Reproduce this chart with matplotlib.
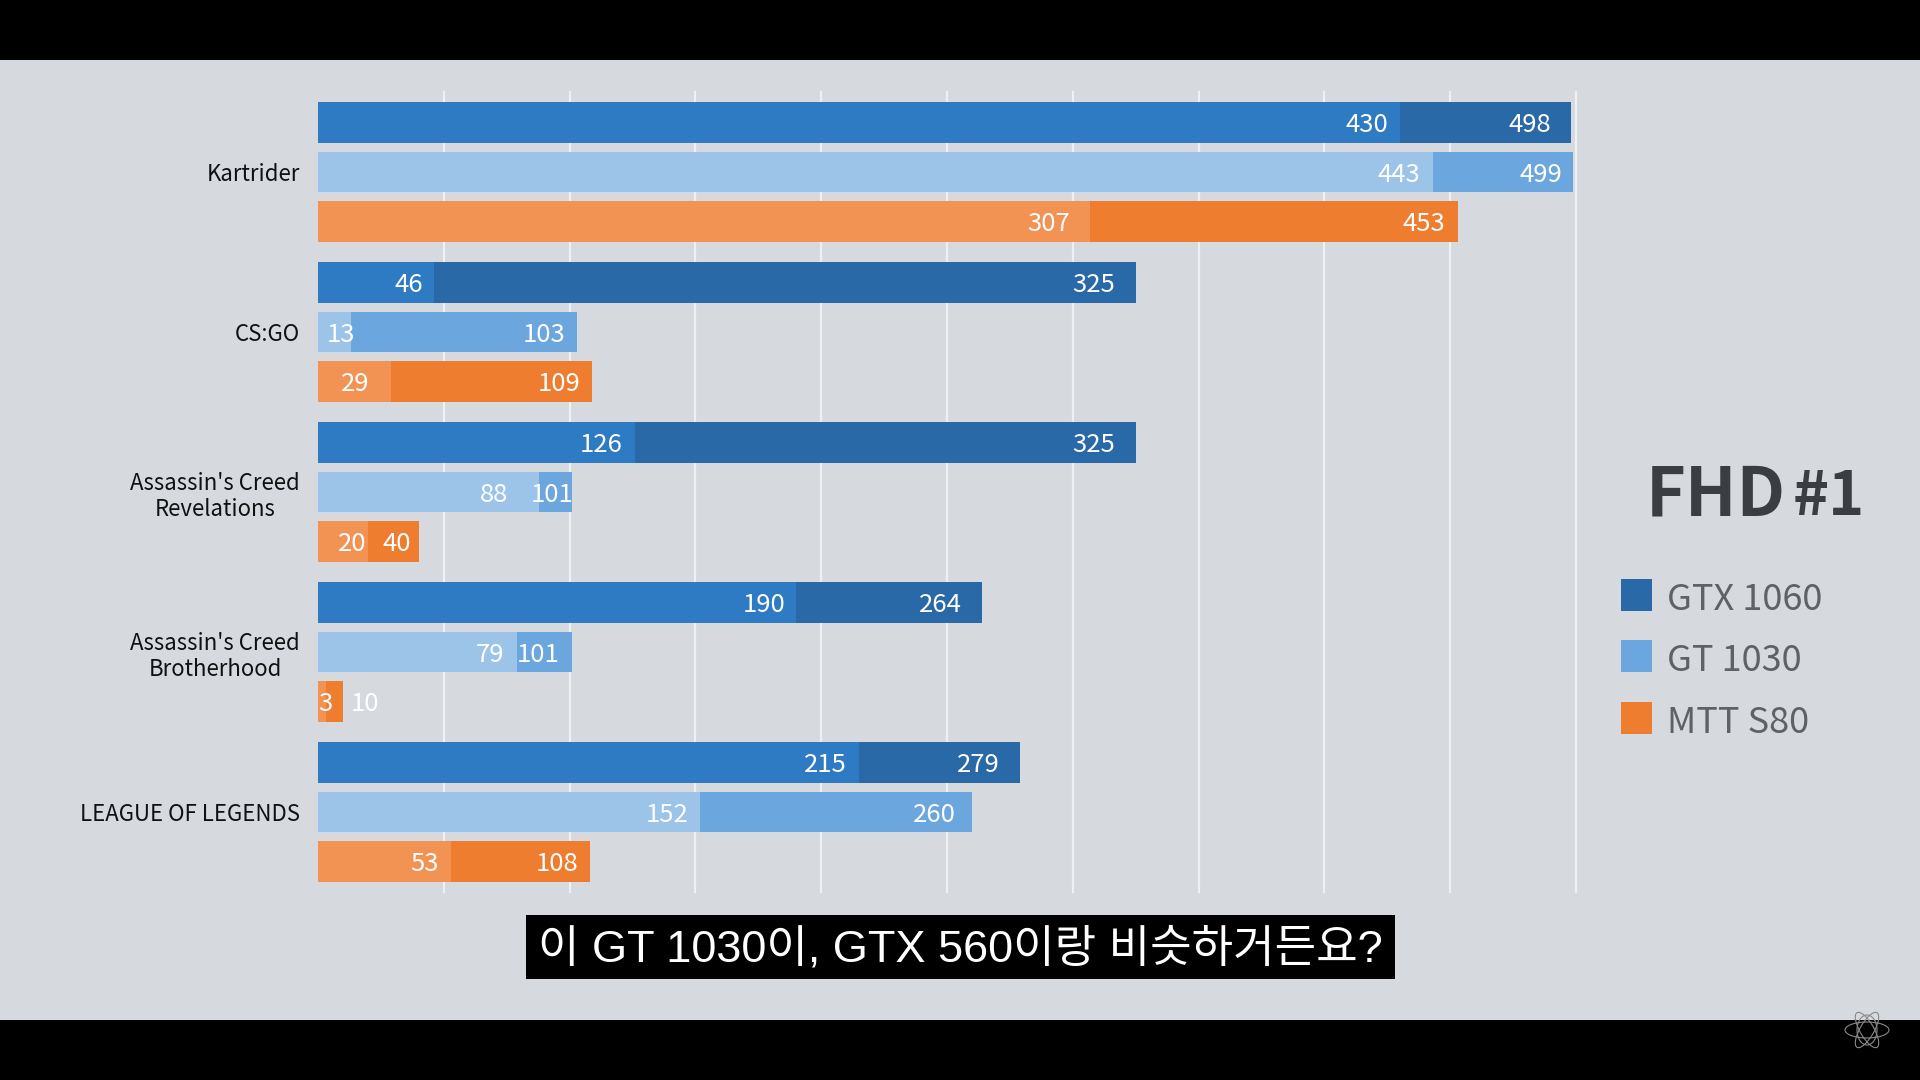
import matplotlib
matplotlib.use("Agg")
import matplotlib.pyplot as plt
from matplotlib.patches import Rectangle, Ellipse

# =========================================
# Data
# =========================================

games = [
    "Kartrider",
    "CS:GO",
    "Assassin's Creed\nRevelations",
    "Assassin's Creed\nBrotherhood",
    "LEAGUE OF LEGENDS",
]
cards = ["GTX 1060", "GT 1030", "MTT S80"]

gtx_min = [430, 46, 126, 190, 215]
gtx_max = [498, 325, 325, 264, 279]
gt_min = [443, 13, 88, 79, 152]
gt_max = [499, 103, 101, 101, 260]
mtt_min = [307, 29, 20, 3, 53]
mtt_max = [453, 109, 40, 10, 108]

grid_ticks = [50, 100, 150, 200, 250, 300, 350, 400, 450, 500]

title_main = "FHD"
title_num = "#1"
subtitle = "이 GT 1030이, GTX 560이랑 비슷하거든요?"

# =========================================
# Style
# =========================================

BG = "#D6D9DE"
GRID = "#EEF0F2"
light_cols = ["#2E7BC4", "#9CC3E8", "#F29354"]
dark_cols = ["#2A69A8", "#6CA6DE", "#EF7D30"]

TXT_FONT = ["Noto Sans CJK KR", "DejaVu Sans"]
SUB_FONT = ["Liberation Sans", "Noto Sans CJK KR"]

# gap between segment end and label, in pixels
min_gaps = [[12, 11, 12, 11, 12], [12, -5, 31, 13, 12], [20, 21, 2, -7, 13]]
max_gaps = [[20, 21, 21, 20, 20], [11, 12, -1, 13, 16], [12, 12, 8, -36, 11]]

fig = plt.figure(figsize=(19.2, 10.8), dpi=100, facecolor=BG)

# full frame axes in pixel coordinates, for everything around the chart
px = fig.add_axes([0, 0, 1, 1], zorder=0)
px.set_xlim(0, 1920)
px.set_ylim(1080, 0)
px.axis("off")

px.add_patch(Rectangle((0, 0), 1920, 60, color="black", lw=0))
px.add_patch(Rectangle((0, 1020), 1920, 60, color="black", lw=0))

# =========================================
# Bars
# =========================================

ax = fig.add_axes([318 / 1920, 1 - 892 / 1080, 1258 / 1920, 800 / 1080], zorder=1)
ax.patch.set_alpha(0)
ax.set_xlim(0, 500)
ax.set_ylim(4.5, -0.5)

mins = [gtx_min, gt_min, mtt_min]
maxs = [gtx_max, gt_max, mtt_max]
offsets = [-0.3075, 0, 0.3075]
bar_h = 0.256


def value_label(value, y, gap):
    ax.annotate(
        str(value),
        xy=(value, y),
        xytext=(-gap * 0.72, -1.8),
        textcoords="offset points",
        ha="right",
        va="center",
        color="white",
        fontsize=18.5,
        family=TXT_FONT,
        zorder=5,
    )


for s in range(3):
    for i in range(len(games)):
        y = i + offsets[s]
        ax.barh(y, maxs[s][i], height=bar_h, color=dark_cols[s], zorder=2)
        ax.barh(y, mins[s][i], height=bar_h, color=light_cols[s], zorder=3)
        value_label(mins[s][i], y, min_gaps[s][i])
        value_label(maxs[s][i], y, max_gaps[s][i])

ax.set_xticks(grid_ticks)
ax.tick_params(axis="x", length=0, labelbottom=False)
ax.grid(axis="x", color=GRID, linewidth=1.6, zorder=1)
for line in ax.get_xgridlines():
    line.set_clip_on(False)

ax.set_yticks(range(len(games)))
ax.set_yticklabels(games, fontsize=16, family=TXT_FONT, color="#111111", multialignment="center", linespacing=1.2)
ax.tick_params(axis="y", length=0, pad=13)

for side in ["top", "right", "bottom", "left"]:
    ax.spines[side].set_visible(False)

# =========================================
# Title and legend
# =========================================

px.text(1646, 515, title_main, fontsize=49, fontweight="bold", family=TXT_FONT, color="#3A3D42", va="baseline")
px.text(1793, 515, title_num, fontsize=44, fontweight="bold", family=TXT_FONT, color="#3A3D42", va="baseline")

legend_tops = [579, 640, 702]
for s in range(3):
    px.add_patch(Rectangle((1621, legend_tops[s]), 31, 32, color=dark_cols[s], lw=0))
    px.text(1667, legend_tops[s] + 31, cards[s], fontsize=26, family=TXT_FONT, color="#5E6267", va="baseline")

# =========================================
# Subtitle box and logo
# =========================================

px.add_patch(Rectangle((526, 915), 869, 64, color="black", lw=0))
px.text(960, 949, subtitle, fontsize=32.5, family=SUB_FONT, color="white", ha="center", va="center")

for angle, w, h in [(0, 44, 16), (60, 40, 14), (-60, 40, 14), (90, 30, 20)]:
    px.add_patch(Ellipse((1867, 1030), w, h, angle=angle, fill=False, ec="#8A8A8A", lw=0.8))

fig.savefig("out.png", dpi=100, facecolor=BG)
